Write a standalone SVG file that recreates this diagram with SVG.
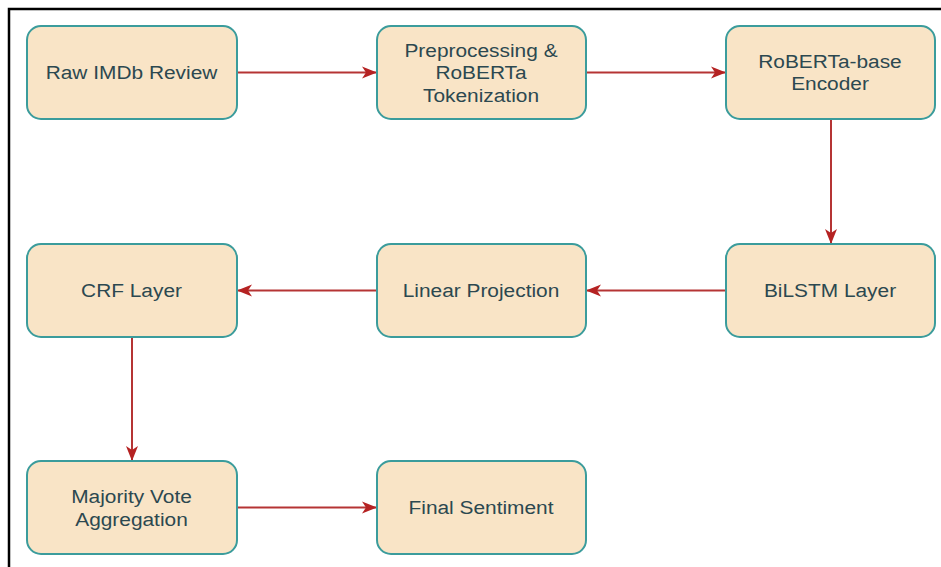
<svg xmlns="http://www.w3.org/2000/svg" width="941" height="567" viewBox="0 0 941 567">
  <style>
    .node rect { fill: #f9e4c6; stroke: #3b9c9c; stroke-width: 2; }
    .node text { font-family: "Liberation Sans", Arial, sans-serif; font-size: 18px; fill: #2c4850; text-anchor: middle; }
    .edge { stroke: #b53434; stroke-width: 2; fill: none; marker-end: url(#arrow); }
  </style>
  <defs>
    <marker id="arrow" markerUnits="userSpaceOnUse" markerWidth="18" markerHeight="14" refX="15" refY="7" orient="auto">
      <path d="M0,1 L15,7 L0,13 L4,7 Z" fill="#b52222"/>
    </marker>
  </defs>
  <rect width="941" height="567" fill="#ffffff"/>
  <path d="M9,567 V9 H941" fill="none" stroke="#000000" stroke-width="2.5"/>

  <g id="edges">
    <line class="edge" x1="237" y1="72.5" x2="377" y2="72.5"/>
    <line class="edge" x1="586" y1="72.5" x2="726" y2="72.5"/>
    <line class="edge" x1="831" y1="119" x2="831" y2="244"/>
    <line class="edge" x1="726" y1="290.5" x2="586" y2="290.5"/>
    <line class="edge" x1="377" y1="290.5" x2="237" y2="290.5"/>
    <line class="edge" x1="132" y1="337" x2="132" y2="461"/>
    <line class="edge" x1="237" y1="507.5" x2="377" y2="507.5"/>
  </g>

  <g id="raw" class="node">
    <rect x="27" y="26" width="210" height="93" rx="14"/>
    <text transform="translate(131.5,78.5) scale(1.16,1)">Raw IMDb Review</text>
  </g>
  <g id="preprocess" class="node">
    <rect x="377" y="26" width="209" height="93" rx="14"/>
    <text transform="translate(481,56.5) scale(1.16,1)">Preprocessing &amp;</text>
    <text transform="translate(481,79) scale(1.16,1)">RoBERTa</text>
    <text transform="translate(481,101.5) scale(1.16,1)">Tokenization</text>
  </g>
  <g id="encoder" class="node">
    <rect x="726" y="26" width="209" height="93" rx="14"/>
    <text transform="translate(830,67.5) scale(1.16,1)">RoBERTa-base</text>
    <text transform="translate(830,90) scale(1.16,1)">Encoder</text>
  </g>
  <g id="bilstm" class="node">
    <rect x="726" y="244" width="209" height="93" rx="14"/>
    <text transform="translate(830,296.5) scale(1.16,1)">BiLSTM Layer</text>
  </g>
  <g id="linear" class="node">
    <rect x="377" y="244" width="209" height="93" rx="14"/>
    <text transform="translate(481,296.5) scale(1.16,1)">Linear Projection</text>
  </g>
  <g id="crf" class="node">
    <rect x="27" y="244" width="210" height="93" rx="14"/>
    <text transform="translate(131.5,296.5) scale(1.16,1)">CRF Layer</text>
  </g>
  <g id="vote" class="node">
    <rect x="27" y="461" width="210" height="93" rx="14"/>
    <text transform="translate(131.5,503) scale(1.16,1)">Majority Vote</text>
    <text transform="translate(131.5,525.5) scale(1.16,1)">Aggregation</text>
  </g>
  <g id="final" class="node">
    <rect x="377" y="461" width="209" height="93" rx="14"/>
    <text transform="translate(481,513.5) scale(1.16,1)">Final Sentiment</text>
  </g>
</svg>
